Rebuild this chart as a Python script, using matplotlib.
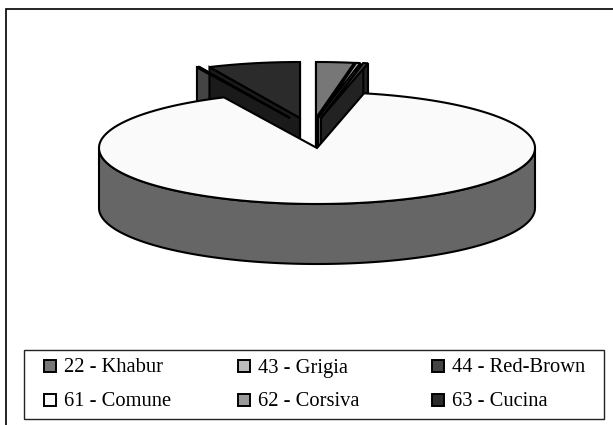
import numpy as np
import matplotlib
matplotlib.use('Agg')
import matplotlib.pyplot as plt
from matplotlib.patches import Polygon, Rectangle

# clockwise from 12 o'clock, shares in percent
labels = ['22 - Khabur', '43 - Grigia', '44 - Red-Brown', '61 - Comune', '62 - Corsiva', '63 - Cucina']
values = [2.8, 0.3, 0.35, 89.3, 0.2, 6.8]
top_colors = ['#777777', '#bbbbbb', '#444444', '#fafafa', '#999999', '#2b2b2b']
wall_colors = ['#444444', '#666666', '#222222', '#666666', '#444444', '#1a1a1a']

# layout of the fake 3d pie, in pixels
cx, cy = 317, 148
rx, ry = 218, 56
depth = 60
lift = [30, 30, 30, 0, 30, 30]
shift = [-1, 1, 4, 0, -27, -17]
edge_w = 1.5


def slice_xy(a0, a1, x0, y0):
    t = np.linspace(a0, a1, max(int(abs(a1 - a0) / 0.01), 2))
    return x0 + rx * np.sin(t), y0 - ry * np.cos(t)


def draw_wall(ax, a, x0, y0, color, z):
    x1, y1 = x0 + rx * np.sin(a), y0 - ry * np.cos(a)
    ax.add_patch(Polygon([(x0, y0), (x1, y1), (x1, y1 + depth), (x0, y0 + depth)],
                         closed=True, fc=color, ec='black', lw=edge_w, zorder=z))


fig = plt.figure(figsize=(6.13, 4.25), dpi=100)
ax = fig.add_axes([0, 0, 1, 1])
ax.set_xlim(0, 613)
ax.set_ylim(425, 0)
ax.axis('off')

# frame runs off the bottom and right of the crop
ax.add_patch(Rectangle((5.5, 9), 640, 460, fc='white', ec='black', lw=1.2))

angles = np.concatenate([[0], np.cumsum(values)]) / np.sum(values) * 2 * np.pi

# lifted slices first, the big one goes over them
for i in range(len(values)):
    if lift[i] == 0:
        continue
    x0, y0 = cx + shift[i], cy - lift[i]
    draw_wall(ax, angles[i + 1], x0, y0, wall_colors[i], 2)
    draw_wall(ax, angles[i], x0, y0, wall_colors[i], 2)
    x, y = slice_xy(angles[i], angles[i + 1], x0, y0)
    pts = np.column_stack([np.r_[x0, x], np.r_[y0, y]])
    ax.add_patch(Polygon(pts, closed=True, fc=top_colors[i], ec='black', lw=edge_w, zorder=3))

big = int(np.argmax(values))
x, y = slice_xy(angles[big], angles[big + 1], cx, cy)
# outer side of the big slice, front half only
front = y >= cy
xf, yf = x[front], y[front]
side = np.column_stack([np.r_[xf, xf[::-1]], np.r_[yf, yf[::-1] + depth]])
ax.add_patch(Polygon(side, closed=True, fc=wall_colors[big], ec='black', lw=edge_w, zorder=4))
pts = np.column_stack([np.r_[cx, x], np.r_[cy, y]])
ax.add_patch(Polygon(pts, closed=True, fc=top_colors[big], ec='black', lw=edge_w, zorder=5))

# legend box, 3 columns by 2 rows
ax.add_patch(Rectangle((23.5, 349.5), 580, 69, fc='white', ec='#222222', lw=1, zorder=6))
col_x = [49.5, 244, 438]
row_y = [366, 399.5]
for i, lab in enumerate(labels):
    lx, ly = col_x[i % 3], row_y[i // 3]
    ax.add_patch(Rectangle((lx - 6, ly - 6), 12, 12, fc=top_colors[i], ec='black', lw=1.4, zorder=7))
    ax.text(lx + 14, ly + 6.5, lab, family='Liberation Serif', fontsize=14.8, va='baseline', ha='left', zorder=7)

fig.savefig('out.png', dpi=100)
